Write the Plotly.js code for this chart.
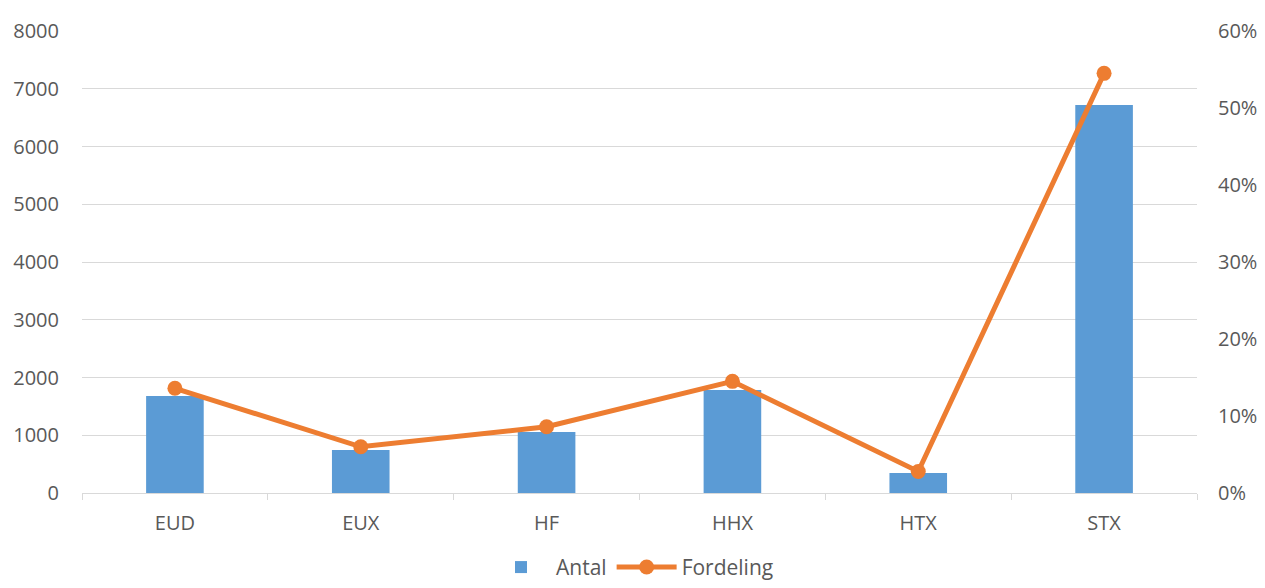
<!DOCTYPE html>
<html>
<head>
<meta charset="utf-8">
<script src="https://cdn.plot.ly/plotly-3.0.1.min.js"></script>
<style>html,body{margin:0;padding:0;background:#fff;}#chart{width:1265px;height:588px;}</style>
</head>
<body>
<div id="chart"></div>
<script>
const categories = ["EUD", "EUX", "HF", "HHX", "HTX", "STX"];
const antal = [1680, 745, 1056, 1783, 346, 6718];
const fordeling = [0.136, 0.060, 0.086, 0.145, 0.028, 0.545];

const font = "Open Sans, Liberation Sans, sans-serif";
const grey = "#595959";

const traces = [
  {
    type: "bar", name: "Antal", x: categories, y: antal,
    marker: {color: "#5b9bd5"}, yaxis: "y"
  },
  {
    type: "scatter", mode: "lines+markers", name: "Fordeling", x: categories, y: fordeling,
    line: {color: "#ed7d31", width: 5}, marker: {color: "#ed7d31", size: 15}, yaxis: "y2"
  }
];

const layout = {
  width: 1265, height: 588,
  margin: {l: 82, r: 68, t: 31, b: 95},
  paper_bgcolor: "#fff", plot_bgcolor: "#fff",
  font: {family: font, size: 20, color: grey},
  showlegend: true,
  bargap: 0.69,
  legend: {orientation: "h", x: 0.5, xanchor: "center", xref: "container",
           y: 0.035, yanchor: "middle", yref: "container",
           font: {size: 21, color: grey}, traceorder: "normal", itemwidth: 60},
  xaxis: {
    type: "category", showline: true, linecolor: "#d9d9d9", linewidth: 1,
    ticks: "outside", tickson: "boundaries", ticklen: 6, tickcolor: "#d9d9d9",
    showgrid: false, tickfont: {size: 20, color: grey}, automargin: false,
    ticklabelstandoff: 12
  },
  yaxis: {
    range: [0, 8000], dtick: 1000, showgrid: true, gridcolor: "#d9d9d9", gridwidth: 1,
    zeroline: false, showline: false, tickfont: {size: 20, color: grey},
    ticklabelstandoff: 22, automargin: false
  },
  yaxis2: {
    range: [0, 0.6], dtick: 0.1, tickformat: ".0%", overlaying: "y", side: "right",
    showgrid: false, zeroline: false, showline: false, tickfont: {size: 20, color: grey},
    ticklabelstandoff: 20, automargin: false
  }
};

Plotly.newPlot("chart", traces, layout, {displayModeBar: false});
</script>
</body>
</html>
